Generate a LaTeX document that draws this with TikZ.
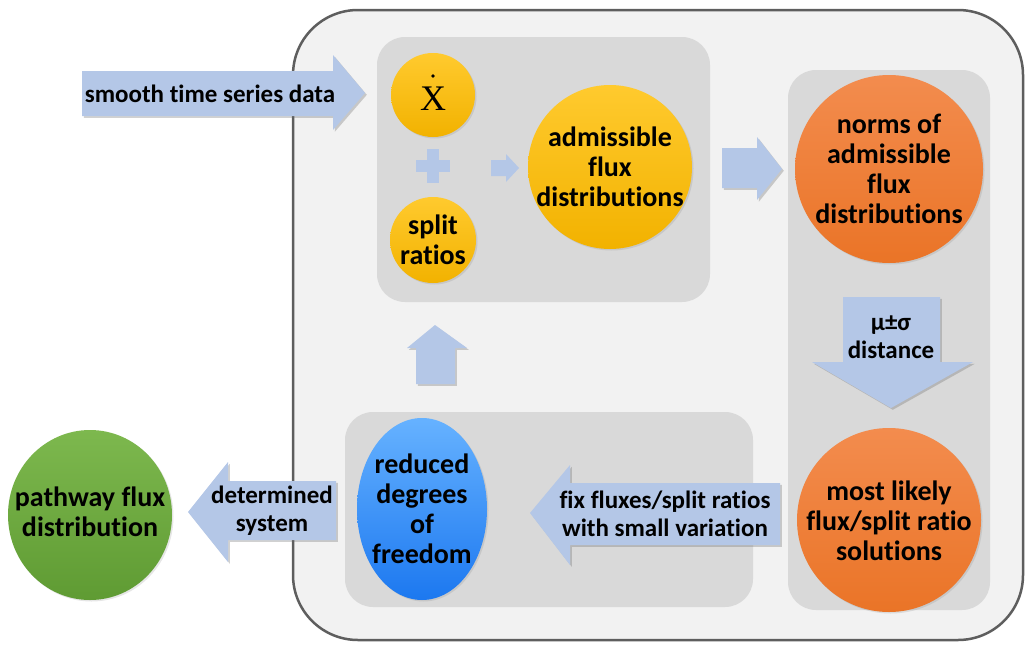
\documentclass[tikz,border=0pt]{standalone}
\usepackage{fontspec}
\setmainfont{Carlito}[Ligatures=NoCommon]
\newfontfamily\serifx{Liberation Serif}
\usetikzlibrary{shadows,shapes.geometric}

\definecolor{frameline}{HTML}{5E5E5E}
\definecolor{framefill}{HTML}{F2F2F2}
\definecolor{panelfill}{HTML}{D9D9D9}
\definecolor{arrowblue}{HTML}{B4C7E7}
\definecolor{goldtop}{HTML}{FFCA2E}
\definecolor{goldbot}{HTML}{F2B200}
\definecolor{orangetop}{HTML}{F38C4E}
\definecolor{orangebot}{HTML}{EA7427}
\definecolor{bluetop}{HTML}{66B2FF}
\definecolor{bluebot}{HTML}{1C78F0}
\definecolor{greentop}{HTML}{7DB84E}
\definecolor{greenbot}{HTML}{5F9B33}

\begin{document}
\begin{tikzpicture}[x=1pt,y=-1pt,
  panel/.style={fill=panelfill, draw=none, rounded corners=28pt},
  blockarrow/.style={fill=arrowblue, draw=none,
    drop shadow={shadow xshift=1.8pt, shadow yshift=-1.8pt, opacity=0.3, fill=black!60}},
  bubble/.style={circle, inner sep=0pt,
    drop shadow={shadow xshift=1.5pt, shadow yshift=-1.5pt, opacity=0.2}},
  oval/.style={ellipse, inner sep=0pt,
    drop shadow={shadow xshift=1.5pt, shadow yshift=-1.5pt, opacity=0.2}},
  bubbletext/.style={align=center, inner sep=0pt,
    font=\bfseries\fontsize{28}{30}\selectfont},
  gold/.style={top color=goldtop, bottom color=goldbot},
  orangeball/.style={top color=orangetop, bottom color=orangebot},
  arrowtext/.style={align=center, inner sep=0pt,
    font=\bfseries\fontsize{25}{28}\selectfont},
]
\useasboundingbox (0,0) rectangle (1025,645);

% outer frame and grey panels
\draw[fill=framefill, draw=frameline, line width=2.5pt, rounded corners=65pt]
  (293,10) rectangle (1023,640);
\fill[panel] (377,37) rectangle (710,302);
\fill[panel] (788,70) rectangle (990,610);
\fill[panel] (345,412) rectangle (753,607);

% input arrow
\path[blockarrow] (82,71) -- (333,71) -- (333,55) -- (365,93) -- (333,130)
  -- (333,116) -- (82,116) -- cycle;
\node[arrowtext] (inlbl) at (210,94) {smooth time series data};

% top panel content
\node[bubble, gold, minimum size=84pt] (xdot) at (433,95) {};
\node[inner sep=0pt, font=\serifx\fontsize{36}{36}\selectfont] (xlbl) at (433,99) {X};
\fill (433,76) circle (1.9pt);
\node[bubble, gold, minimum size=86pt] (split) at (433,240) {};
\node[bubbletext] (splitlbl) at (split) {split\\ratios};
\node[bubble, gold, minimum size=164pt] (adm) at (610,167) {};
\node[bubbletext] (admlbl) at (adm) {admissible\\flux\\distributions};
\coordinate (plus) at (433,166);
\fill[arrowblue] ([xshift=-17pt,yshift=-6pt]plus) rectangle ([xshift=17pt,yshift=6pt]plus);
\fill[arrowblue] ([xshift=-6pt,yshift=-17pt]plus) rectangle ([xshift=6pt,yshift=17pt]plus);
\path[fill=arrowblue] (491,160) -- (506,160) -- (506,154) -- (519,168)
  -- (506,182) -- (506,176) -- (491,176) -- cycle;

% arrow to the right panel
\path[blockarrow] (722,148) -- (757,148) -- (757,137) -- (782,169) -- (757,200)
  -- (757,188) -- (722,188) -- cycle;

% right panel content
\node[bubble, orangeball, minimum size=188pt] (norms) at (889,169) {};
\node[bubbletext] (normslbl) at (norms) {norms of\\admissible\\flux\\distributions};
\path[blockarrow] (843,297) -- (940,297) -- (940,362) -- (973,362) -- (891,408)
  -- (812,362) -- (843,362) -- cycle;
\node[arrowtext] (mslbl) at (891,337) {μ±σ\\distance};
\node[bubble, orangeball, minimum size=184pt] (likely) at (889,520) {};
\node[bubbletext] (likelylbl) at (889,521) {most likely\\flux/split ratio\\solutions};

% bottom panel content
\path[blockarrow] (780,483) -- (570,483) -- (570,465) -- (530,513) -- (570,565)
  -- (570,545) -- (780,545) -- cycle;
\node[arrowtext] (fixlbl) at (665,514) {fix fluxes/split ratios\\with small variation};
\node[oval, top color=bluetop, bottom color=bluebot,
  minimum width=130pt, minimum height=182pt] (reduced) at (422,509) {};
\node[bubbletext] (reducedlbl) at (reduced) {reduced\\degrees\\of\\freedom};

% back to the top panel
\path[blockarrow] (416,384) -- (416,348) -- (407,348) -- (435,325) -- (467,348)
  -- (455,348) -- (455,384) -- cycle;

% result
\path[blockarrow] (336,481) -- (228,481) -- (228,462) -- (188,512) -- (228,562)
  -- (228,540) -- (336,540) -- cycle;
\node[arrowtext] (detlbl) at (272,511) {determined\\system};
\node[oval, top color=greentop, bottom color=greenbot,
  minimum width=164pt, minimum height=170pt] (pathway) at (90,515) {};
\node[bubbletext] (pathwaylbl) at (90,512) {pathway flux\\distribution};
\end{tikzpicture}
\end{document}
